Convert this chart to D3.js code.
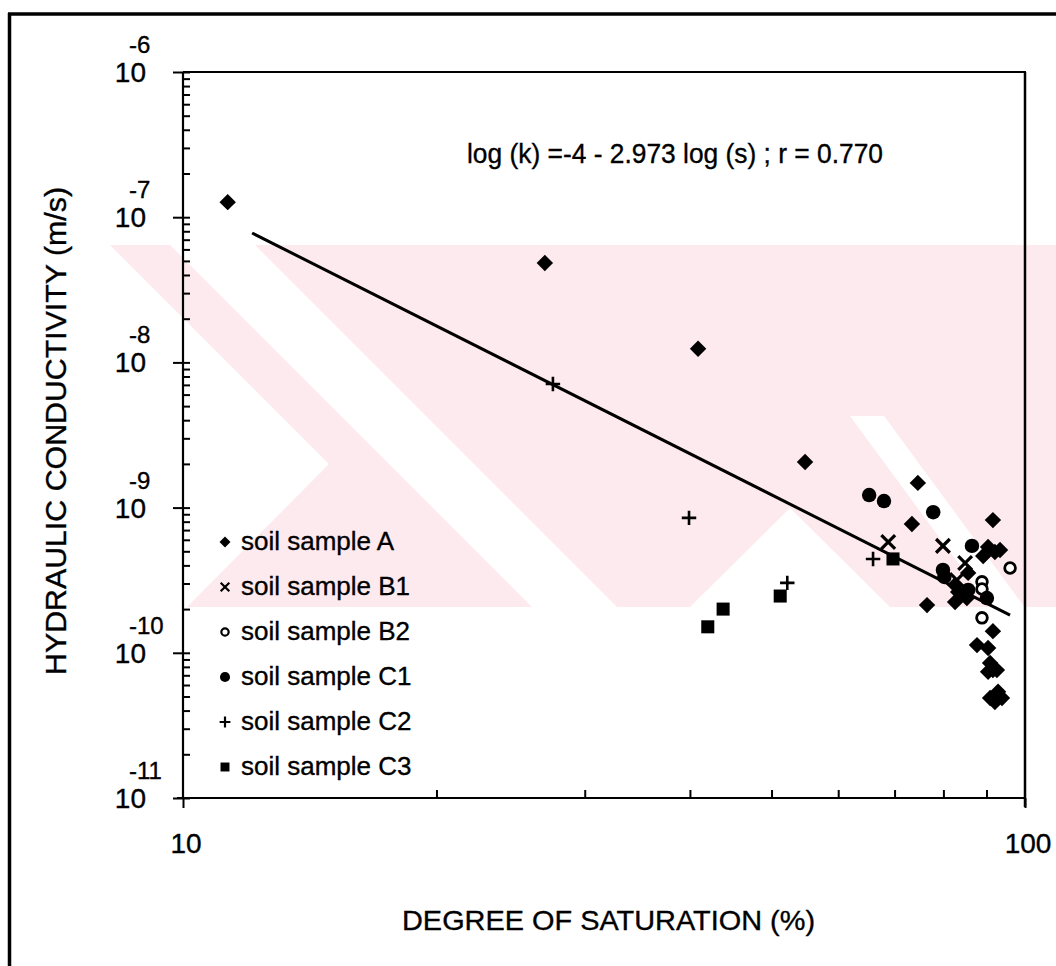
<!DOCTYPE html>
<html>
<head>
<meta charset="utf-8">
<script src="https://cdn.jsdelivr.net/npm/d3@7"></script>
<style>
html,body{margin:0;padding:0;background:#fff;}
svg{display:block;}
text{font-family:"Liberation Sans",Arial,sans-serif;fill:#000;stroke:#000;stroke-width:0.35px;}
</style>
</head>
<body>
<svg id="chart" width="1056" height="966"></svg>
<script>
// ---------- data (saturation %, hydraulic conductivity m/s) ----------
const seriesNames = ["soil sample A","soil sample B1","soil sample B2","soil sample C1","soil sample C2","soil sample C3"];
const sampleA_S = [11.3,26.9,40.9,54.8,74.6,73.4,76.5,91.6,90.4,92.1,93.4,89.2,85.6,82.6,83.3,85.3,82.6,91.6,87.7,90.4,90.9,91.6,90.4,92.6,92.9,90.9,93.9,92.1];
const sampleA_K = [1.27e-7,4.84e-8,1.24e-8,2.06e-9,1.48e-9,7.7e-10,2.13e-10,8.2e-10,5.36e-10,4.94e-10,5.1e-10,4.64e-10,3.55e-10,2.93e-10,2.62e-10,2.38e-10,2.24e-10,1.41e-10,1.13e-10,1.08e-10,8.5e-11,7.6e-11,7.4e-11,7.6e-11,5.4e-11,4.89e-11,4.89e-11,4.58e-11];
const sampleB1_S = [68.8,79.9,84.9,83.0];
const sampleB1_K = [5.8e-10,5.45e-10,4.15e-10,3.17e-10];
const sampleB2_S = [96.0,88.9,88.9,88.9];
const sampleB2_K = [3.84e-10,3.08e-10,2.75e-10,1.74e-10];
const sampleC1_S = [65.3,68.0,77.8,86.5,79.9,80.2,85.6,90.1];
const sampleC1_K = [1.22e-9,1.11e-9,9.3e-10,5.45e-10,3.72e-10,3.33e-10,2.71e-10,2.38e-10];
const sampleC2_S = [27.5,39.9,52.2,66.0];
const sampleC2_K = [7.1e-9,8.5e-10,3.03e-10,4.43e-10];
const sampleC3_S = [42.0,43.8,51.2,69.7];
const sampleC3_K = [1.51e-10,2.0e-10,2.46e-10,4.43e-10];
// regression line end points
const fitS = [12.08, 96.0];
const fitK = [7.78e-8, 1.82e-10];
const equationText = "log (k) =-4 - 2.973 log (s) ; r = 0.770";
// axes
const xMajor = [10, 100];
const xMajorLabels = ["10", "100"];
const xMinor = [20,30,40,50,60,70,80,90];
const yMajor = [1e-6,1e-7,1e-8,1e-9,1e-10,1e-11];
const yExponents = ["-6","-7","-8","-9","-10","-11"];
const xTitle = "DEGREE OF SATURATION (%)";
const yTitle = "HYDRAULIC CONDUCTIVITY (m/s)";

// ---------- drawing ----------
const svg = d3.select("#chart");
const L = 183, R = 1025, T = 72, B = 798;
const x = d3.scaleLog().domain([10,100]).range([L,R]);
const y = d3.scaleLog().domain([1e-11,1e-6]).range([B,T]);

// faint background watermark of the scanned page
const wm = svg.append("g").attr("fill","#fdeaee");
const wmPink = [[110,245],[1056,245],[1056,607],[187,607],[329,464]];
const wmWhite = [
  [[170,245],[255,245],[617,607],[532,607]],
  [[850,416],[884,416],[1056,650],[1022,650]],
  [[790,508],[890,607],[690,607]]
];
wm.append("path").attr("d", d3.line()(wmPink) + "Z");
wmWhite.forEach(p => wm.append("path").attr("d", d3.line()(p) + "Z").attr("fill","#fff"));

// outer frame (left and top edges)
svg.append("line").attr("x1",9.5).attr("x2",9.5).attr("y1",13).attr("y2",966).attr("stroke","#000").attr("stroke-width",3.5);
svg.append("line").attr("x1",8).attr("x2",1056).attr("y1",14).attr("y2",14).attr("stroke","#000").attr("stroke-width",3.5);

// y minor ticks
const yMinor = [];
for (let e = -11; e < -6; e++) for (let m = 2; m <= 9; m++) yMinor.push(m * Math.pow(10, e));

const gy1 = svg.append("g").attr("transform",`translate(${L},0)`)
  .call(d3.axisLeft(y).tickValues(yMajor).tickSize(10).tickSizeOuter(0).tickFormat(""));
const gy2 = svg.append("g").attr("transform",`translate(${L},0)`)
  .call(d3.axisRight(y).tickValues(yMajor.concat(yMinor)).tickSize(7).tickSizeOuter(0).tickFormat(""));
const gx1 = svg.append("g").attr("transform",`translate(0,${B})`)
  .call(d3.axisBottom(x).tickValues(xMajor).tickSize(10).tickSizeOuter(0).tickFormat(""));
const gx2 = svg.append("g").attr("transform",`translate(0,${B})`)
  .call(d3.axisTop(x).tickValues(xMinor).tickSize(8).tickSizeOuter(0).tickFormat(""));
[gy1,gy2,gx1,gx2].forEach(g => {
  g.select(".domain").remove();
  g.selectAll(".tick line").attr("stroke","#000").attr("stroke-width",2);
});

// frame of plot area
svg.append("line").attr("x1",L).attr("x2",L).attr("y1",T).attr("y2",B).attr("stroke","#000").attr("stroke-width",2.2);
svg.append("line").attr("x1",L-6).attr("x2",R).attr("y1",B).attr("y2",B).attr("stroke","#000").attr("stroke-width",2.2);
svg.append("line").attr("x1",R).attr("x2",R).attr("y1",T).attr("y2",B+9).attr("stroke","#000").attr("stroke-width",2.5);
svg.append("line").attr("x1",L).attr("x2",R+1).attr("y1",T).attr("y2",T).attr("stroke","#000").attr("stroke-width",2.2);

// y tick labels
yMajor.forEach((v,i) => {
  const yy = y(v);
  svg.append("text").attr("x",146).attr("y",yy+10).attr("text-anchor","end")
    .attr("font-size",28).text("10");
  svg.append("text").attr("x",129).attr("y",yy-19).attr("text-anchor","start")
    .attr("font-size",24).text(yExponents[i]);
});
// x tick labels
xMajor.forEach((v,i) => {
  svg.append("text").attr("x",x(v)+3).attr("y",853).attr("text-anchor","middle")
    .attr("font-size",28).text(xMajorLabels[i]);
});

// axis titles
svg.append("text").attr("x",402).attr("y",930).attr("font-size",28)
  .attr("textLength",413).attr("lengthAdjust","spacingAndGlyphs").text(xTitle);
svg.append("text").attr("transform","translate(66,431) rotate(-90)").attr("text-anchor","middle")
  .attr("font-size",29).attr("textLength",488).attr("lengthAdjust","spacingAndGlyphs").text(yTitle);

// equation
svg.append("text").attr("x",467).attr("y",163).attr("font-size",27)
  .attr("textLength",416).attr("lengthAdjust","spacingAndGlyphs").text(equationText);

// regression line
const fitData = fitS.map((s,i) => [s, fitK[i]]);
svg.append("path").datum(fitData)
  .attr("d", d3.line().x(d => x(d[0])).y(d => y(d[1])))
  .attr("fill","none").attr("stroke","#000").attr("stroke-width",3);

// marker styles
const styles = [
  {type:d3.symbolSquare, size:135, fill:"#000", stroke:"none", sw:0, rot:45, lsize:60},
  {type:d3.symbolTimes, size:125, fill:"none", stroke:"#000", sw:3.2, rot:0, lsize:50},
  {type:d3.symbolCircle, size:90, fill:"#fff", stroke:"#000", sw:2.8, rot:0, lsize:42},
  {type:d3.symbolCircle, size:165, fill:"#000", stroke:"none", sw:0, rot:0, lsize:80},
  {type:d3.symbolPlus, size:70, fill:"none", stroke:"#000", sw:2.6, rot:0, lsize:40},
  {type:d3.symbolSquare, size:170, fill:"#000", stroke:"none", sw:0, rot:0, lsize:80}
];
const series = [
  [sampleA_S, sampleA_K],[sampleB1_S, sampleB1_K],[sampleB2_S, sampleB2_K],
  [sampleC1_S, sampleC1_K],[sampleC2_S, sampleC2_K],[sampleC3_S, sampleC3_K]
];
series.forEach((sr,i) => {
  const st = styles[i];
  const pts = sr[0].map((s,j) => [s, sr[1][j]]);
  svg.append("g").selectAll("path").data(pts).join("path")
    .attr("transform", d => `translate(${x(d[0])},${y(d[1])}) rotate(${st.rot})`)
    .attr("d", d3.symbol().type(st.type).size(st.size))
    .attr("fill", st.fill).attr("stroke", st.stroke).attr("stroke-width", st.sw);
});

// legend
seriesNames.forEach((name,i) => {
  const st = styles[i];
  const by = 550 + i*45;
  svg.append("path").attr("transform",`translate(225,${by-8}) rotate(${st.rot})`)
    .attr("d", d3.symbol().type(st.type).size(st.lsize))
    .attr("fill", st.fill).attr("stroke", st.stroke).attr("stroke-width", st.sw ? 2.2 : 0);
  svg.append("text").attr("x",241).attr("y",by).attr("font-size",26).text(name);
});
</script>
</body>
</html>
